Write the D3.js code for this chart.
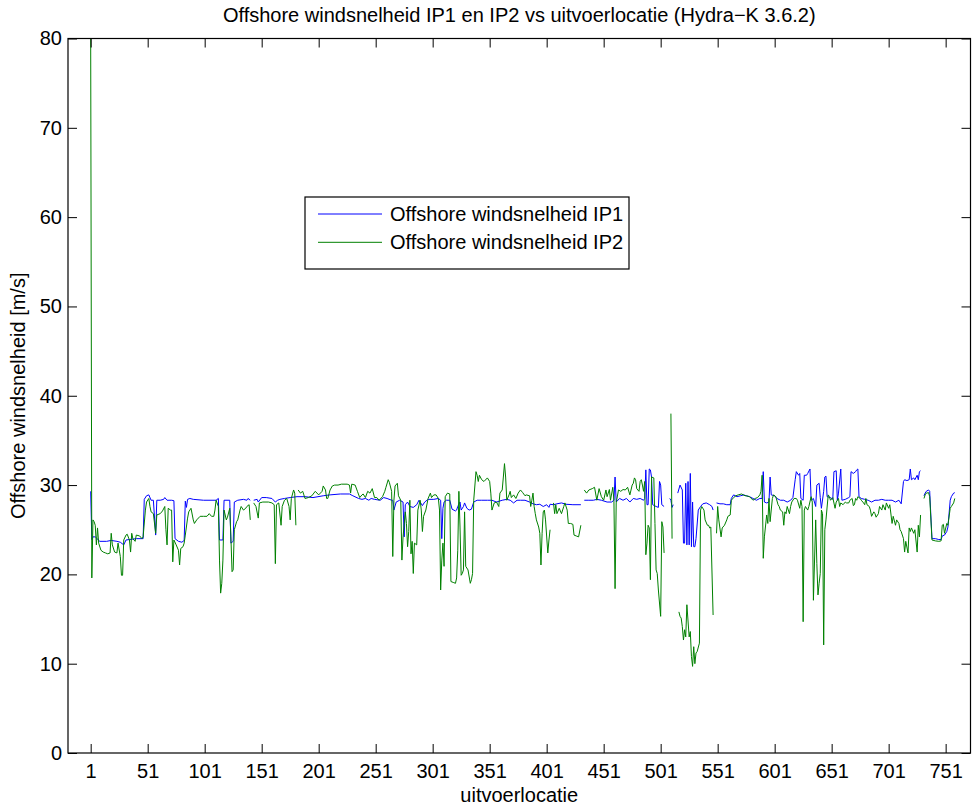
<!DOCTYPE html>
<html>
<head>
<meta charset="utf-8">
<script src="https://cdn.jsdelivr.net/npm/d3@7"></script>
<style>
  body { margin: 0; background: #fff; }
  svg text { font-family: "Liberation Sans", Arial, Helvetica, sans-serif; fill: #000; }
</style>
</head>
<body>
<svg id="chart" width="973" height="808"></svg>
<script>
// Titles and labels
const chartTitle = "Offshore windsnelheid IP1 en IP2 vs uitvoerlocatie (Hydra\u2212K 3.6.2)";
const xLabel = "uitvoerlocatie";
const yLabel = "Offshore windsnelheid [m/s]";
const seriesNames = ["Offshore windsnelheid IP1", "Offshore windsnelheid IP2"];
const seriesColors = ["#0000ff", "#008000"];

// Tick values
const xTicks = [1, 51, 101, 151, 201, 251, 301, 351, 401, 451, 501, 551, 601, 651, 701, 751];
const yTicks = [0, 10, 20, 30, 40, 50, 60, 70, 80];

// [uitvoerlocatie, windsnelheid]; null value = no result at that location
const ip1 = [
  [1,29.3],[2,23.9],[3,24.2],[5,24.2],[9,23.7],[15,23.7],[19,23.8],[24,23.7],[27,23.6],[30,23.3],[32,23.85],[35,23.9],[41,24.0],[47,24.0],[48,28.4],[50,28.8],[52,28.9],[54,28.3],[56,28.3],[58,24.4],[59,28.3],[62,28.3],[65,28.4],[66,28.6],[68,28.3],[72,28.3],[74,28.25],[75,24.0],[78,23.7],[81,23.6],[83,23.8],[84,28.2],[85,27.5],[86,28.4],[88,28.5],[91,28.4],
  [100,28.3],[111,28.3],[113,28.5],[114,23.85],[117,23.85],[118,28.3],[123,28.3],[124,23.5],[126,23.7],[127,28.1],[130,28.3],[135,28.4],[138,28.3],[139,28.5],[141,28.3],[142,null],[144,28.3],[147,28.4],[148,28.1],[151,28.6],[155,28.6],[160,28.5],[163,28.1],[165,28.3],[167,28.4],[171,28.5],[176,28.6],[182,28.7],[189,28.7],
  [196,28.6],[205,28.8],[211,28.9],[220,29.0],[228,29.0],[231,28.8],[236,28.5],[239,28.4],[242,28.5],[245,28.3],[247,28.5],[250,28.4],[255,28.3],[258,28.6],[261,28.5],[265,28.3],[266,28.3],[267,27.2],[269,28.1],[272,28.3],[275,28.1],[276,24.2],[277,27.8],[279,28.1],[281,27.6],
  [284,27.5],[287,27.8],[289,28.3],[292,27.7],[294,28.1],[297,28.4],[302,28.4],[306,28.5],[308,28.3],[309,24.0],[310,27.4],[311,28.1],[313,28.3],[316,28.3],[318,27.3],[321,27.1],[322,27.2],[323,27.6],[325,28.1],[326,27.2],[328,27.6],[329,28.0],[331,27.4],[333,27.2],[335,27.3],[337,28.1],[340,28.3],[344,28.3],[349,28.3],[353,28.3],[357,28.1],[362,28.3],[366,28.4],[369,28.3],[372,28.0],[375,28.3],[378,28.3],[382,28.3],
  [386,28.1],[389,27.9],[392,27.8],[395,27.85],[398,27.6],[401,27.8],[403,27.5],[404,27.85],[407,27.8],[410,27.9],[414,28.0],[418,27.85],[424,27.8],[431,27.8],[432,null],[434,28.3],[438,28.3],[442,28.3],[445,28.4],[449,28.3],[454,28.1],[458,28.1],[460,28.3],[461,30.9],[462,28.1],[465,28.5],[468,28.3],[471,28.5],[474,28.1],[477,28.5],
  [480,28.4],[483,28.5],[486,28.3],[487,28.5],[488,31.7],[489,27.8],[490,27.8],[491,31.8],[492,31.7],[493,30.9],[494,27.8],[497,27.6],[499,27.5],[500,30.4],[501,30.0],[502,27.8],[504,27.6],[505,null],[509,28.5],[510,28.3],[511,27.5],[512,27.8],[513,null],[516,29.1],[518,30.0],[520,29.45],[521,23.5],[522,23.5],[523,30.2],[524,23.3],[525,30.4],[526,23.3],[527,31.3],[528,23.1],[529,28.1],[530,23.1],[531,23.1],[532,24.0],[534,27.2],[536,27.6],[538,27.9],[541,28.0],[544,27.8],[546,27.6],[547,27.2],[548,null],[550,28.0],[553,27.9],[556,27.9],[559,27.8],[562,27.8],[563,28.5],[565,28.9],[568,28.7],[571,28.8],[574,28.9],
  [576,28.8],[579,28.7],[582,28.5],[585,28.3],[588,28.5],[590,28.5],[591,31.5],[592,28.1],[594,28.0],[596,28.1],[597,30.9],[598,28.9],[601,28.8],[603,28.5],[606,28.3],[609,28.3],[612,28.1],[615,28.3],[617,28.6],[619,30.6],[620,31.5],[622,31.1],[623,31.3],[624,28.5],[626,28.3],[627,31.1],[629,31.1],[630,31.3],[632,31.8],[633,28.3],[635,28.5],[637,27.6],[638,30.0],[640,30.2],[641,28.6],[642,27.4],[644,29.3],[645,30.9],[646,31.0],[647,28.7],[650,28.6],[652,28.4],[653,31.5],[655,31.6],[656,28.3],[657,29.1],[659,31.8],[660,28.3],[663,28.4],[666,28.6],[667,28.7],[668,31.5],[670,31.3],
  [672,31.5],[673,31.7],[674,31.8],[675,28.7],[677,28.5],[680,28.4],[683,28.3],[686,28.1],[689,28.3],[692,28.3],[695,28.4],[698,28.3],[701,28.3],[704,28.3],[707,28.1],[710,28.3],[712,27.9],[714,30.4],[715,30.6],[717,30.5],[719,30.6],[720,31.8],[721,30.6],[723,30.8],[724,30.6],[726,31.1],[727,30.6],[728,31.5],[729,31.6],[730,null],[732,28.8],[733,29.1],[734,29.3],[736,29.45],[737,29.3],[739,24.0],[742,24.0],[745,23.9],[747,23.9],[748,24.3],[750,24.4],[752,24.8],[753,25.3],[755,28.3],[756,28.7],[758,29.1],[759,29.15]
];

const ip2 = [
  [1,80],[2,19.6],[3,26.1],[4,25.9],[5,25.5],[6,23.3],[7,25.2],[8,23.5],[10,22.7],[12,22.5],[14,22.4],[16,22.3],[18,22.4],[19,24.6],[20,23.3],[22,22.5],[24,22.4],[25,23.5],[27,22.0],[28,19.9],[29,19.9],[30,23.85],[32,24.4],[33,24.5],[35,23.85],[36,22.5],[37,24.6],[38,24.0],[40,23.7],[41,24.4],[44,24.3],[46,24.0],[47,24.2],[49,27.2],[50,28.1],[52,28.5],[53,27.6],[54,27.0],[56,26.8],[58,24.6],[59,26.65],[62,26.8],[64,27.1],[66,27.6],[67,25.0],[68,23.3],[69,27.4],[71,27.2],[72,27.2],[73,21.4],[74,23.85],[76,23.3],[78,22.7],[79,21.05],[80,22.9],[82,23.1],[83,23.5],[84,24.4],[86,26.3],[87,27.0],[89,27.4],[91,26.1],[92,25.7],
  [94,26.1],[97,26.5],[100,26.5],[103,26.5],[105,26.8],[107,26.5],[109,26.5],[110,27.2],[111,28.3],[113,27.6],[114,21.6],[115,17.9],[116,19.0],[117,21.6],[118,27.2],[120,26.1],[121,26.4],[123,27.4],[124,24.2],[125,20.3],[126,20.5],[127,25.0],[129,25.9],[130,26.1],[132,27.2],[133,27.6],[135,27.2],[137,27.4],[138,27.6],[140,27.8],[141,26.1],[142,null],[144,28.0],[146,27.6],[148,26.3],[149,28.0],[152,28.1],[157,28.1],[160,28.0],[162,27.8],[163,21.2],[164,27.8],[166,28.0],[168,25.5],[169,27.6],[171,28.3],[173,28.5],[175,27.6],[176,26.1],[177,28.5],[179,29.45],[180,29.1],[181,25.5],[182,null],[183,29.45],[185,29.1],[187,29.3],
  [188,28.9],[189,28.5],[192,28.6],[195,28.8],[198,29.3],[201,28.9],[204,29.3],[205,29.9],[207,29.45],[208,28.5],[209,28.5],[211,29.45],[213,29.9],[215,30.0],[218,30.0],[221,30.1],[226,30.1],[228,30.0],[229,29.1],[230,30.1],[233,30.0],[235,29.3],[237,28.6],[239,28.9],[240,29.0],[242,28.6],[244,29.3],[246,29.1],[248,29.6],[250,28.6],[252,28.6],[254,28.3],[257,28.7],[259,29.3],[260,29.75],[262,30.6],[263,30.3],[265,29.3],[266,22.0],[267,28.3],[268,29.9],[270,30.2],[271,28.8],[273,28.3],[274,21.6],[275,24.2],[277,27.0],[278,25.7],[279,23.1],[280,24.8],
  [281,28.3],[282,22.3],[283,23.7],[284,20.1],[285,23.5],[287,23.3],[288,27.2],[290,28.3],[291,27.2],[292,24.8],[293,26.5],[295,27.2],[297,28.5],[299,29.1],[300,28.6],[302,28.9],[304,28.9],[306,28.5],[307,27.2],[308,18.25],[309,21.6],[310,23.5],[311,20.9],[312,28.7],[314,29.1],[316,29.0],[317,19.2],[319,19.1],[321,19.0],[322,19.6],[323,22.7],[324,29.3],[325,25.3],[326,19.9],[327,20.1],[328,20.5],[329,27.0],[330,20.9],[332,20.5],[334,19.0],[335,19.4],[336,20.1],[337,28.3],[339,31.5],[340,31.1],[341,30.4],[342,31.1],[344,30.6],[346,30.4],[349,30.8],[351,30.4],[352,29.1],[353,27.2],[355,28.0],[357,28.1],[359,27.6],[360,29.1],[362,29.45],[363,30.9],[364,32.4],[365,30.9],[366,28.3],[368,28.9],[369,29.3],[370,28.6],[372,28.9],[374,28.5],[376,29.1],[378,29.45],[380,29.15],[382,28.8],
  [383,28.9],[386,28.8],[387,27.6],[388,28.3],[389,29.1],[390,27.6],[391,26.8],[392,26.1],[394,25.3],[395,24.6],[396,21.05],[397,24.6],[398,27.0],[399,27.2],[400,26.1],[402,22.4],[403,23.85],[404,25.0],[405,null],[407,28.0],[408,26.8],[409,27.8],[410,26.8],[412,27.4],[414,26.8],[416,27.6],[417,28.0],[419,27.2],[420,25.7],[422,25.7],[424,25.6],[425,24.4],[427,24.3],[429,24.2],[431,25.5],[432,null],[434,29.45],[436,29.1],[438,29.45],[441,29.6],[443,29.75],[445,28.3],[447,29.6],[449,28.7],[451,28.3],[453,29.45],[454,28.7],[456,29.5],[457,28.3],[459,29.75],[460,28.3],[461,18.4],[462,28.0],[464,29.45],[466,29.3],[468,29.5],[470,29.45],[472,29.75],[474,28.9],[476,30.0],[477,30.2],[478,30.8],
  [479,30.6],[480,29.6],[482,29.3],[483,30.4],[484,30.6],[485,30.0],[486,29.3],[487,30.4],[488,22.2],[489,23.5],[490,25.5],[491,25.2],[492,19.4],[493,30.9],[495,30.8],[496,25.7],[497,20.5],[498,20.1],[499,18.25],[501,15.3],[502,25.9],[503,25.3],[504,22.4],[505,null],[510,38.0],[511,24.0],[512,null],[517,15.8],[518,15.3],[519,15.1],[520,14.15],[521,12.65],[522,13.8],[523,13.0],[524,16.6],[526,13.0],[527,13.6],[528,10.8],[529,9.7],[530,11.9],[531,10.0],[532,11.2],[533,11.35],[535,12.3],[536,27.2],[537,27.6],[539,27.2],[540,26.1],[542,25.5],[543,25.5],[544,25.2],[545,25.3],[547,15.45],[548,null],[550,24.6],[551,27.6],[552,26.1],[554,24.2],[555,25.2],[557,25.5],[559,26.1],[560,26.5],[562,26.65],[563,28.3],[565,28.6],[567,28.8],[569,28.9],[572,29.0],[575,28.8],
  [576,28.8],[579,28.7],[582,28.3],[584,28.5],[586,28.6],[588,28.9],[589,29.3],[590,31.1],[591,21.8],[592,24.2],[594,26.65],[595,25.7],[596,28.5],[597,25.9],[599,28.5],[600,28.9],[602,28.7],[604,27.8],[605,27.6],[606,27.2],[608,27.0],[609,25.5],[610,27.0],[611,26.8],[612,27.6],[614,26.8],[615,27.6],[616,28.1],[618,28.5],[620,28.5],[621,28.3],[623,27.4],[624,28.3],[625,27.6],[626,14.7],[627,27.2],[628,27.6],[630,27.2],[631,27.6],[633,28.7],[634,28.1],[635,17.1],[637,26.1],[638,21.2],[639,17.7],[640,19.0],[641,20.1],[642,27.2],[643,26.8],[644,12.1],[645,25.0],[646,26.1],[648,28.9],[649,28.7],[650,28.3],[652,28.6],[654,27.4],[655,28.1],[657,28.5],[658,27.6],[659,28.0],[661,27.8],[663,28.1],[664,28.0],[666,28.0],[667,28.3],[669,28.5],[670,27.7],[671,27.8],
  [672,28.5],[673,28.3],[674,28.7],[676,28.5],[677,28.3],[679,28.0],[680,27.8],[681,28.5],[682,27.8],[684,27.6],[685,27.2],[686,26.5],[688,27.0],[689,26.8],[690,26.4],[692,26.8],[693,27.6],[695,27.2],[696,27.8],[698,27.2],[699,28.0],[701,27.4],[702,27.8],[704,25.7],[705,26.5],[707,25.5],[708,26.1],[710,25.7],[711,25.0],[712,24.8],[714,24.0],[715,22.5],[716,23.7],[718,22.4],[719,25.2],[720,24.8],[721,25.2],[723,24.6],[724,25.0],[726,22.5],[727,25.5],[728,24.2],[729,26.65],[730,null],[732,28.5],[733,28.9],[734,29.1],[736,29.15],[737,28.7],[739,23.85],[742,23.75],[745,23.7],[747,23.75],[748,25.5],[749,25.6],[750,24.6],[752,25.7],[753,25.5],[755,27.4],[756,27.6],[758,28.0],[759,28.5]
];

// Layout
const W = 973, H = 808;
const plot = { left: 68, right: 970.5, top: 38.5, bottom: 753 };
const tickLen = 9;
const fontSize = 20;

const svg = d3.select("#chart");

const x = d3.scaleLinear().domain([-18.9, 772.8]).range([plot.left, plot.right]);
const y = d3.scaleLinear().domain([0, 80]).range([plot.bottom, plot.top]);

// Clip region for the data lines
svg.append("defs").append("clipPath").attr("id", "plotClip")
  .append("rect")
  .attr("x", plot.left).attr("y", plot.top)
  .attr("width", plot.right - plot.left).attr("height", plot.bottom - plot.top);

// Data lines (IP1 first, IP2 drawn over it)
const line = d3.line()
  .defined(d => d[1] !== null)
  .x(d => x(d[0]))
  .y(d => y(d[1]));

const lines = svg.append("g").attr("clip-path", "url(#plotClip)");
[ip1, ip2].forEach((series, i) => {
  lines.append("path")
    .datum(series)
    .attr("fill", "none")
    .attr("stroke", seriesColors[i])
    .attr("stroke-width", 1)
    .attr("stroke-linejoin", "round")
    .attr("d", line);
});

// Axes: ticks point inward on all four sides
function styleAxis(g) {
  g.select(".domain").remove();
  g.selectAll(".tick line").attr("stroke", "#000").attr("stroke-width", 1);
  g.selectAll(".tick text")
    .attr("font-size", fontSize)
    .attr("font-family", '"Liberation Sans", Arial, sans-serif')
    .attr("fill", "#000");
}

svg.append("g")
  .attr("transform", `translate(0,${plot.bottom})`)
  .call(d3.axisBottom(x).tickValues(xTicks).tickSizeInner(-tickLen).tickSizeOuter(0).tickPadding(11).tickFormat(d3.format("d")))
  .call(styleAxis);

svg.append("g")
  .attr("transform", `translate(0,${plot.top})`)
  .call(d3.axisTop(x).tickValues(xTicks).tickSizeInner(-tickLen).tickSizeOuter(0).tickFormat(""))
  .call(styleAxis);

svg.append("g")
  .attr("transform", `translate(${plot.left},0)`)
  .call(d3.axisLeft(y).tickValues(yTicks).tickSizeInner(-tickLen).tickSizeOuter(0).tickPadding(6).tickFormat(d3.format("d")))
  .call(styleAxis);

svg.append("g")
  .attr("transform", `translate(${plot.right},0)`)
  .call(d3.axisRight(y).tickValues(yTicks).tickSizeInner(-tickLen).tickSizeOuter(0).tickFormat(""))
  .call(styleAxis);

// Plot box
svg.append("rect")
  .attr("x", plot.left).attr("y", plot.top)
  .attr("width", plot.right - plot.left).attr("height", plot.bottom - plot.top)
  .attr("fill", "none").attr("stroke", "#000").attr("stroke-width", 1.2);

// Title and axis labels
const cx = (plot.left + plot.right) / 2;
svg.append("text")
  .attr("x", cx).attr("y", 22)
  .attr("text-anchor", "middle").attr("font-size", fontSize)
  .text(chartTitle);

svg.append("text")
  .attr("x", cx).attr("y", 802)
  .attr("text-anchor", "middle").attr("font-size", fontSize)
  .text(xLabel);

svg.append("text")
  .attr("transform", `translate(25,${(plot.top + plot.bottom) / 2}) rotate(-90)`)
  .attr("text-anchor", "middle").attr("font-size", fontSize)
  .text(yLabel);

// Legend
const legend = svg.append("g").attr("transform", "translate(305,197)");
legend.append("rect")
  .attr("width", 324).attr("height", 72)
  .attr("fill", "#fff").attr("stroke", "#000").attr("stroke-width", 1.2);
seriesNames.forEach((name, i) => {
  const ly = 17 + i * 28.3;
  legend.append("line")
    .attr("x1", 13).attr("x2", 77).attr("y1", ly).attr("y2", ly)
    .attr("stroke", seriesColors[i]).attr("stroke-width", 1);
  legend.append("text")
    .attr("x", 85).attr("y", ly + 7)
    .attr("font-size", fontSize)
    .text(name);
});
</script>
</body>
</html>
